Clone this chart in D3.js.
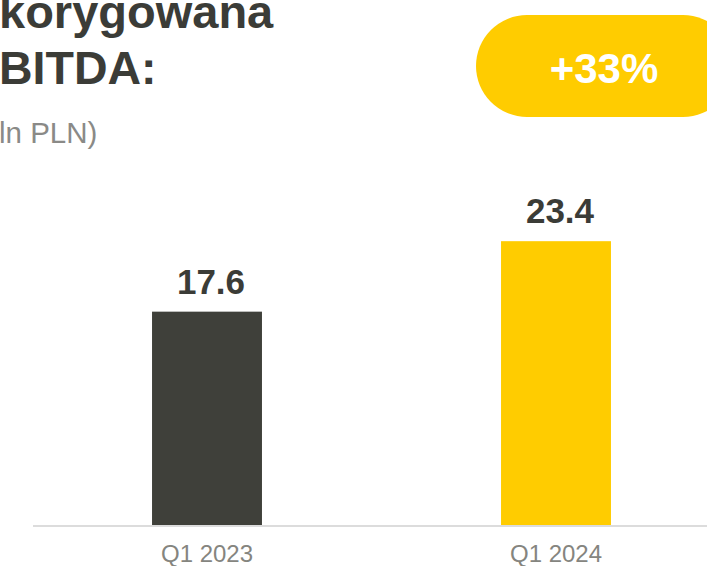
<!DOCTYPE html>
<html>
<head>
<meta charset="utf-8">
<script src="https://cdn.jsdelivr.net/npm/d3@7/dist/d3.min.js"></script>
<style>
  html, body { margin: 0; padding: 0; background: #ffffff; }
  svg { display: block; }
  text { font-family: "Liberation Sans", Arial, sans-serif; }
</style>
</head>
<body>
<svg id="chart" width="707" height="566"></svg>
<script>
// Adjusted EBITDA, quarterly comparison
const periods = ["Q1 2023", "Q1 2024"];
const ebitda = [17.6, 23.4];
const barColors = ["#3f403a", "#ffcc00"];
const titleLines = ["korygowana", "BITDA:"];
const unitLabel = "ln PLN)";
const changeLabel = "+33%";

const W = 707, H = 566;
const svg = d3.select("#chart");

const x = d3.scaleBand()
  .domain(periods)
  .range([32.5, 730.5])
  .paddingInner(0.685)
  .paddingOuter(0.3425);

const y = d3.scaleLinear()
  .domain([0, 43.25])
  .range([525.5, 0]);

// Title block
svg.append("text")
  .attr("x", -1).attr("y", 28)
  .attr("font-size", 47).attr("font-weight", "bold")
  .attr("fill", "#3b3c37")
  .text(titleLines[0]);
svg.append("text")
  .attr("x", -1).attr("y", 84)
  .attr("font-size", 46.5).attr("font-weight", "bold")
  .attr("fill", "#3b3c37")
  .text(titleLines[1]);
svg.append("text")
  .attr("x", -1).attr("y", 143)
  .attr("font-size", 29.5)
  .attr("fill", "#8a8a87")
  .text(unitLabel);

// Growth badge
svg.append("rect")
  .attr("x", 476).attr("y", 15)
  .attr("width", 258).attr("height", 102)
  .attr("rx", 51).attr("ry", 51)
  .attr("fill", "#ffcc00");
svg.append("text")
  .attr("x", 604).attr("y", 83)
  .attr("text-anchor", "middle")
  .attr("font-size", 42).attr("font-weight", "bold")
  .attr("fill", "#ffffff")
  .text(changeLabel);

// Bars
const data = periods.map((p, i) => ({ period: p, value: ebitda[i], color: barColors[i] }));

svg.append("g").selectAll("rect")
  .data(data)
  .join("rect")
  .attr("x", d => x(d.period))
  .attr("y", d => y(d.value))
  .attr("width", x.bandwidth())
  .attr("height", d => y(0) - y(d.value))
  .attr("fill", d => d.color);

// Value labels
svg.append("g").selectAll("text")
  .data(data)
  .join("text")
  .attr("x", d => x(d.period) + x.bandwidth() / 2 + 4)
  .attr("y", d => y(d.value) - 18)
  .attr("text-anchor", "middle")
  .attr("font-size", 35).attr("font-weight", "bold")
  .attr("fill", "#3b3c37")
  .text(d => d.value.toFixed(1));

// Category axis
const axis = svg.append("g")
  .attr("transform", `translate(0,${y(0)})`)
  .call(d3.axisBottom(x).tickSize(0).tickPadding(19));
axis.select(".domain").remove();
axis.append("line")
  .attr("x1", 33).attr("x2", W)
  .attr("y1", 0.5).attr("y2", 0.5)
  .attr("stroke", "#dcdcdc").attr("stroke-width", 2);
axis.selectAll(".tick text")
  .attr("font-family", "\"Liberation Sans\", Arial, sans-serif")
  .attr("font-size", 24)
  .attr("fill", "#85857f");
</script>
</body>
</html>
